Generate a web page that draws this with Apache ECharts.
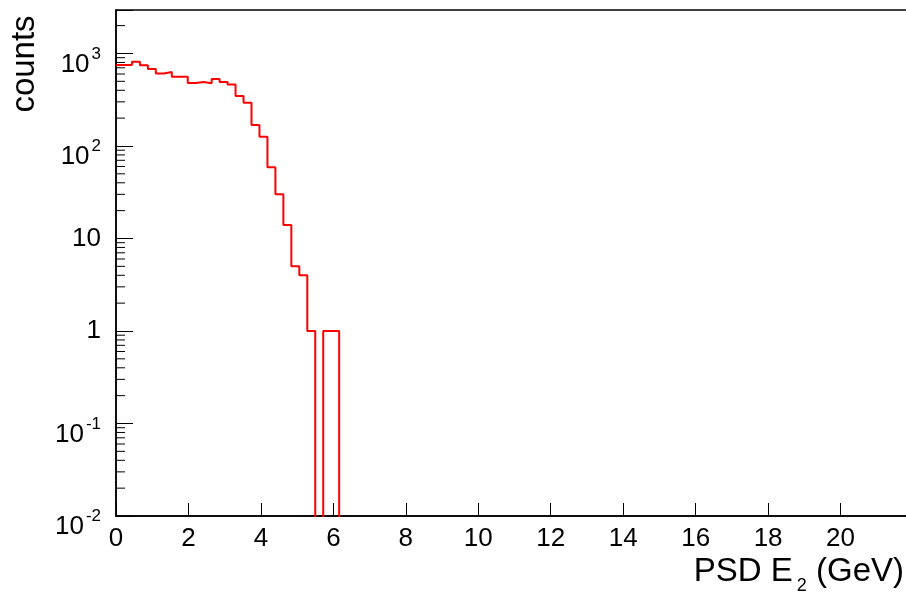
<!DOCTYPE html>
<html>
<head>
<meta charset="utf-8">
<script src="https://cdn.jsdelivr.net/npm/echarts@6/dist/echarts.min.js"></script>
<style>
  html, body { margin: 0; padding: 0; background: #fff; }
  #chart { width: 906px; height: 596px; }
</style>
</head>
<body>
<div id="chart"></div>
<script>
// ---- data ----
const BIN_START = 0;       // GeV
const BIN_WIDTH = 0.22;    // GeV
const counts = [750, 750, 815, 745, 680, 608, 631, 561, 561, 480,
                492, 476, 530, 492, 462, 347, 294, 169, 126, 59,
                30, 14, 5, 4, 1, 0, 1, 1];
const xTickLabels = ['0','2','4','6','8','10','12','14','16','18','20'];
const yDecades = [-2, -1, 0, 1, 2, 3];
const X_MIN = 0, X_MAX = 22;
const Y_MIN = 0.01, Y_MAX = 2950;
const xTitle = { main: 'PSD E', sub: '2', unit: ' (GeV)' };
const yTitle = 'counts';

// ---- build ----
const FONT = 'Liberation Sans, Arial, Helvetica, sans-serif';
const FLOOR = 1e-4; // empty bins drop below the log axis
const pts = [];
counts.forEach((c, i) => {
  const x0 = BIN_START + i * BIN_WIDTH, x1 = x0 + BIN_WIDTH;
  const y = c > 0 ? c : FLOOR;
  pts.push([x0, y], [x1, y]);
});
pts.push([BIN_START + counts.length * BIN_WIDTH, FLOOR]);

const minorTicks = [];
yDecades.forEach(e => {
  for (let m = 2; m <= 9; m++) {
    const v = m * Math.pow(10, e);
    if (v < Y_MAX) minorTicks.push([0, v]);
  }
});

const chart = echarts.init(document.getElementById('chart'), null, { renderer: 'canvas' });
chart.setOption({
  animation: false,
  backgroundColor: '#fff',
  grid: {
    left: 116, width: 797, top: 10, bottom: 80,
    show: true, borderColor: '#000', borderWidth: 1.5,
    containLabel: false, outerBoundsMode: 'none'
  },
  xAxis: {
    type: 'value', min: X_MIN, max: X_MAX, interval: 2,
    axisLine: { show: true, lineStyle: { color: '#000', width: 1.5 } },
    axisTick: { show: true, inside: true, length: 13, lineStyle: { color: '#000', width: 1 } },
    splitLine: { show: false },
    axisLabel: {
      margin: 10, color: '#000', fontSize: 26, fontFamily: FONT,
      formatter: v => { const s = String(Math.round(v)); return xTickLabels.indexOf(s) >= 0 ? s : ''; }
    }
  },
  yAxis: {
    type: 'log', logBase: 10, min: Y_MIN, max: Y_MAX,
    axisLine: { show: true, lineStyle: { color: '#000', width: 1.5 } },
    axisTick: { show: true, inside: true, length: 17, lineStyle: { color: '#000', width: 1 } },
    splitLine: { show: false },
    minorTick: { show: false },
    axisLabel: {
      margin: 15, color: '#000', fontFamily: FONT,
      formatter: v => {
        const e = Math.round(Math.log10(v));
        if (Math.abs(v - Math.pow(10, e)) / Math.pow(10, e) > 1e-6) return '';
        if (yDecades.indexOf(e) < 0) return '';
        if (e === 0) return '{p|1}';
        if (e === 1) return '{p|10}';
        return '{b|10}{e|' + e + '}';
      },
      rich: {
        p: { fontSize: 26, lineHeight: 26, fontFamily: FONT, color: '#000' },
        b: { fontSize: 26, lineHeight: 26, fontFamily: FONT, color: '#000', verticalAlign: 'top', padding: [11, 0, 0, 0] },
        e: { fontSize: 17, lineHeight: 17, fontFamily: FONT, color: '#000', verticalAlign: 'top', padding: [5, 0, 0, 2] }
      }
    }
  },
  series: [
    {
      type: 'line', data: pts, showSymbol: false, symbol: 'none', clip: true, z: 2,
      lineStyle: { color: '#ff0000', width: 2 }
    },
    {
      type: 'custom', data: minorTicks, z: 3, clip: false, silent: true,
      renderItem: (params, api) => {
        const p = api.coord([X_MIN, api.value(1)]);
        return { type: 'line', shape: { x1: p[0], y1: p[1], x2: p[0] + 9, y2: p[1] }, style: { stroke: '#000', lineWidth: 1 } };
      }
    }
  ],
  graphic: [
    {
      type: 'text', x: 25, y: 64, rotation: Math.PI / 2,
      style: { text: yTitle, fontSize: 33, fontFamily: FONT, fill: '#000', align: 'center', verticalAlign: 'middle', textAlign: 'center', textVerticalAlign: 'middle' }
    },
    {
      type: 'text', x: 904, y: 555,
      style: {
        text: '{a|' + xTitle.main + '}{s|' + xTitle.sub + '}{a|' + xTitle.unit + '}',
        align: 'right', verticalAlign: 'top', textAlign: 'right', textVerticalAlign: 'top', fill: '#000',
        rich: {
          a: { fontSize: 33, lineHeight: 36, fontFamily: FONT, fill: '#000', verticalAlign: 'top' },
          s: { fontSize: 18, lineHeight: 18, fontFamily: FONT, fill: '#000', verticalAlign: 'top', padding: [22, 0, 0, 4] }
        }
      }
    }
  ]
});
</script>
</body>
</html>
